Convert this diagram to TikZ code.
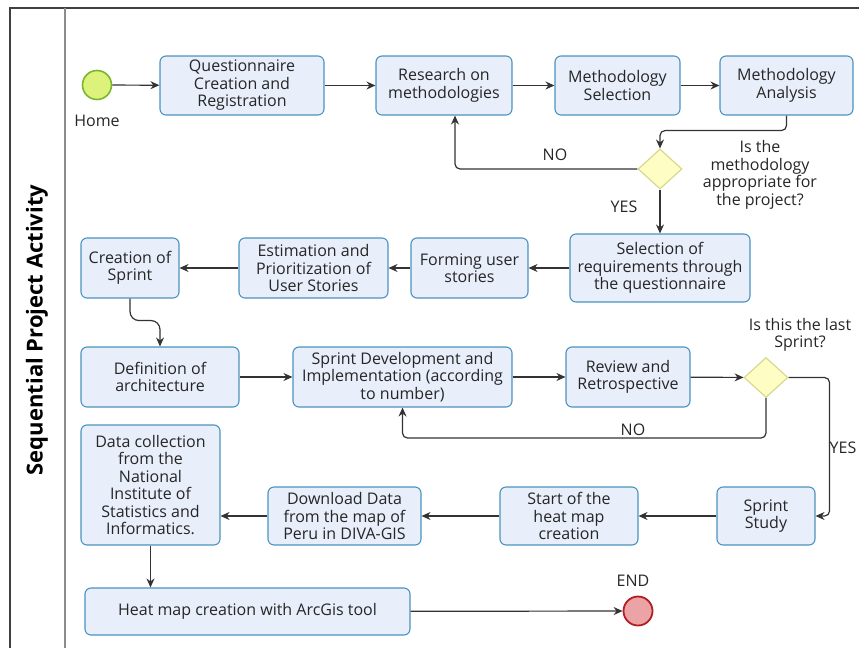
\documentclass[tikz,border=0pt]{standalone}
\usepackage{fontspec}
\setmainfont{Open Sans}
\usetikzlibrary{shapes.geometric,arrows.meta,calc}
\definecolor{boxfill}{HTML}{E9EEFB}
\definecolor{boxline}{HTML}{4A93C0}
\definecolor{dfill}{HTML}{FDFDC4}
\definecolor{dline}{HTML}{D6D68A}
\definecolor{sfill}{HTML}{DDF27A}
\definecolor{sline}{HTML}{79B52E}
\definecolor{efill}{HTML}{EBA3A6}
\definecolor{eline}{HTML}{B01E24}
\definecolor{conn}{HTML}{333333}
\tikzset{
  txt/.style={font=\fontsize{16}{17.5}\selectfont, align=center, text=black!85, inner sep=0pt},
  box/.style={txt, draw=boxline, fill=boxfill, rounded corners=6pt, line width=1.1pt},
  dia/.style={diamond, draw=dline, fill=dfill, line width=1.1pt, minimum width=44pt, minimum height=40pt, inner sep=0pt},
  arr/.style={draw=conn, line width=1.2pt, -{Stealth[length=9pt,width=8pt]}, rounded corners=5pt},
  lbl/.style={txt}
}
\begin{document}
\begin{tikzpicture}[x=1pt,y=-1pt]
\useasboundingbox (0,0) rectangle (859,648);
% frame
\draw[line width=1.4pt, black!75] (10,648) -- (10,8) -- (859,8);
\draw[line width=1.4pt, black!45] (65,8) -- (65,648);
\node[rotate=90, font=\fontsize{22}{26}\selectfont\bfseries] (title) at (37,330) {Sequential Project Activity};
% start
\node[circle, draw=sline, fill=sfill, line width=1.6pt, minimum size=29pt, inner sep=0pt] (start) at (97,85) {};
\node[lbl] (home) at (97,121) {Home};
% row 1
\node[box, minimum width=164pt, minimum height=59pt] (q) at (242,85.5) {Questionnaire\\Creation and\\Registration};
\node[box, minimum width=136pt, minimum height=59pt] (r) at (444,85.5) {Research on\\methodologies};
\node[box, minimum width=125pt, minimum height=59pt] (ms) at (617.5,85.5) {Methodology\\Selection};
\node[box, minimum width=133pt, minimum height=59pt] (ma) at (786.5,85.5) {Methodology\\Analysis};
\node[dia] (d1) at (660,169) {};
\node[lbl] (q1) at (760,175) {Is the\\methodology\\appropriate for\\the project?};
\node[lbl] (no1) at (555,155) {NO};
\node[lbl] (yes1) at (624,207) {YES};
% row 2
\node[box, minimum width=180pt, minimum height=68pt] (sel) at (660,268) {Selection of\\requirements through\\the questionnaire};
\node[box, minimum width=117pt, minimum height=60pt] (fu) at (469.5,268) {Forming user\\stories};
\node[box, minimum width=149pt, minimum height=60pt] (est) at (313.5,268) {Estimation and\\Prioritization of\\User Stories};
\node[box, minimum width=98pt, minimum height=60pt] (cs) at (130,268) {Creation of\\Sprint};
% row 3
\node[box, minimum width=158pt, minimum height=60pt] (def) at (160,377) {Definition of\\architecture};
\node[box, minimum width=219pt, minimum height=60pt] (sd) at (402.5,377) {Sprint Development and\\Implementation (according\\to number)};
\node[box, minimum width=124pt, minimum height=60pt] (rr) at (628,377) {Review and\\Retrospective};
\node[dia] (d2) at (766,377.5) {};
\node[lbl] (q2) at (800,335) {Is this the last\\Sprint?};
\node[lbl] (no2) at (633,430) {NO};
\node[lbl] (yes2) at (843,448) {YES};
% row 4
\node[box, minimum width=98pt, minimum height=58pt] (ss) at (766,516) {Sprint\\Study};
\node[box, minimum width=138pt, minimum height=58pt] (st) at (569,516) {Start of the\\heat map\\creation};
\node[box, minimum width=153pt, minimum height=58pt] (dd) at (344.5,516) {Download Data\\from the map of\\Peru in DIVA-GIS};
\node[box, minimum width=139pt, minimum height=120pt] (dc) at (150.5,485) {Data collection\\from the\\National\\Institute of\\Statistics and\\Informatics.};
% row 5
\node[box, minimum width=325pt, minimum height=47pt] (hm) at (247.5,611.5) {Heat map creation with ArcGis tool};
\node[circle, draw=eline, fill=efill, line width=1.8pt, minimum size=29pt, inner sep=0pt] (end) at (638,611) {};
\node[lbl] (endl) at (633,581) {END};
% connectors
\draw[arr] (start) -- (q);
\draw[arr] (q) -- (r);
\draw[arr] (r) -- (ms);
\draw[arr] (ms) -- (ma);
\draw[arr] (ma.south) -- ++(0,15) -| (d1.north);
\draw[arr] (d1.west) -| ($(r.south)+(11,0)$);
\draw[arr] (d1.south) -- (sel.north);
\draw[arr] (sel) -- (fu);
\draw[arr] (fu) -- (est);
\draw[arr] (est) -- (cs);
\draw[arr, rounded corners=9pt] (cs.south) -- ++(0,22) -| (def.north);
\draw[arr] (def) -- (sd);
\draw[arr] (sd) -- (rr);
\draw[arr] (rr) -- (d2);
\draw[arr] (d2.south) -- ++(0,40) -| (sd.south);
\draw[arr] (d2.east) -- ++(41,0) |- (ss.east);
\draw[arr] (ss) -- (st);
\draw[arr] (st) -- (dd);
\draw[arr] (dd.west) -- (dd.west -| dc.east);
\draw[arr] (dc.south) -- (dc.south |- hm.north);
\draw[arr] (hm) -- (end);
\end{tikzpicture}
\end{document}
